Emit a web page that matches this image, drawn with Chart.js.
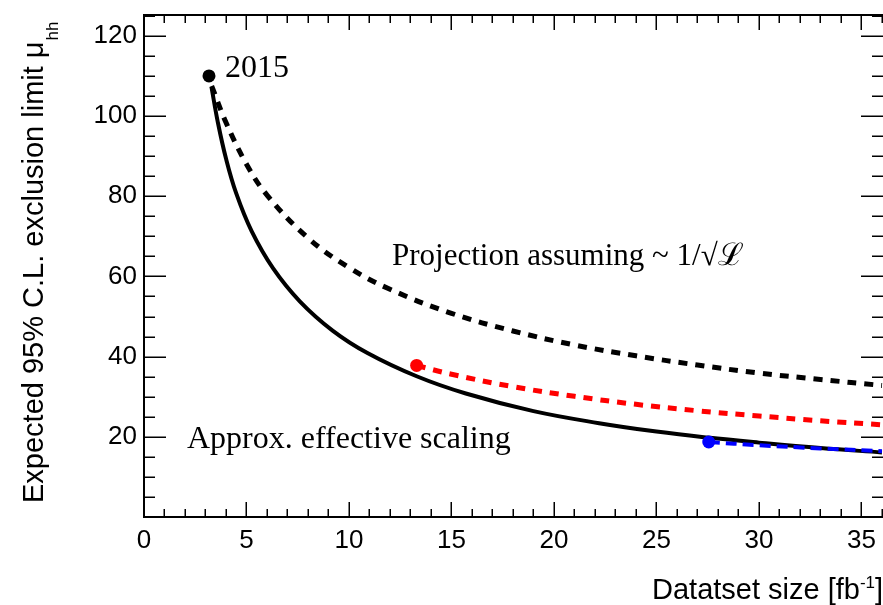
<!DOCTYPE html>
<html><head><meta charset="utf-8">
<script src="https://cdn.jsdelivr.net/npm/chart.js@4.4.1/dist/chart.umd.min.js"></script>
<style>html,body{margin:0;padding:0;background:#fff;overflow:hidden}</style>
</head><body>
<canvas id="c" width="883" height="605"></canvas>
<script>
// ---- data ----
const solidX = [3.3, 3.6, 4.0, 4.5, 5.25, 6.3, 7.6, 9.2, 10.9, 13.3, 15.7, 19, 22.2, 25, 27.5, 30, 33, 36];
const solidY = [107, 98.5, 89.4, 80.7, 71.3, 62.0, 53.8, 46.5, 40.9, 35.1, 30.8, 26.4, 23.4, 21.3, 19.8, 18.55, 17.2, 16.1];
const projX  = [3.3, 4, 5, 6, 8, 10, 12, 15, 18, 21, 24, 27, 30, 33, 36];
const projY  = [107.5, 98.4, 88, 80.3, 69.6, 62.2, 56.8, 50.8, 46.4, 42.9, 40.2, 37.9, 35.9, 34.3, 32.8];
const redX   = [13.3, 15, 18, 21, 24, 27, 30, 33, 36];
const redY   = [37.8, 35.6, 32.5, 30.1, 28.1, 26.5, 25.2, 24.0, 23.0];
const blueX  = [27.55, 30, 33, 36];
const blueY  = [18.7, 17.9, 17.1, 16.4];
const markerX = [3.17, 13.3, 27.55];
const markerY = [110, 37.8, 18.7];
const markerColors = ['#000000', '#ff0000', '#0000ff'];
const xTickLabels = [0, 5, 10, 15, 20, 25, 30, 35];
const yTickLabels = [20, 40, 60, 80, 100, 120];

const pts = (xs, ys) => xs.map((x, i) => ({x: x, y: ys[i]}));

const SANS = '"Liberation Sans", Arial, Helvetica, sans-serif';
const SERIF = '"Liberation Serif", "Times New Roman", Times, serif';
const noPad = () => ({left: 0, top: 0, right: 0, bottom: 0});

const decor = {
  id: 'decor',
  afterDatasetsDraw(chart) {
    const {ctx, chartArea: a, scales: {x, y}} = chart;
    ctx.save();
    ctx.strokeStyle = '#000';
    ctx.lineWidth = 1.5;
    ctx.beginPath();
    for (let v = 0; v <= 36; v += 1) {
      const px = Math.round(x.getPixelForValue(v)) + 0.25;
      const L = v % 5 === 0 ? 15 : 8;
      ctx.moveTo(px, a.bottom); ctx.lineTo(px, a.bottom - L);
      ctx.moveTo(px, a.top); ctx.lineTo(px, a.top + L);
    }
    for (let v = 0; v <= 125; v += 5) {
      const py = Math.round(y.getPixelForValue(v)) + 0.25;
      const L = v % 20 === 0 ? 22 : 11;
      ctx.moveTo(a.left, py); ctx.lineTo(a.left + L, py);
      ctx.moveTo(a.right, py); ctx.lineTo(a.right - L, py);
    }
    ctx.stroke();
    ctx.lineWidth = 2;
    ctx.strokeRect(a.left, a.top, a.right - a.left + 2, a.bottom - a.top);

    // annotations
    ctx.fillStyle = '#000';
    ctx.textBaseline = 'alphabetic';
    ctx.textAlign = 'left';
    ctx.font = '32px ' + SERIF;
    ctx.fillText('2015', 225, 77);
    ctx.fillText('Approx. effective scaling', 187, 448);
    ctx.font = '31px ' + SERIF;
    ctx.fillText('Projection assuming ~ 1/\u221A\u2112', 392, 265);
    ctx.restore();
  },
  afterDraw(chart) {
    const {ctx} = chart;
    ctx.save();
    ctx.fillStyle = '#000';
    ctx.textBaseline = 'alphabetic';
    ctx.textAlign = 'left';
    // y title
    ctx.translate(43, 503);
    ctx.rotate(-Math.PI / 2);
    ctx.font = '29px ' + SANS;
    const main = 'Expected 95% C.L. exclusion limit \u03BC';
    ctx.fillText(main, 0, 0);
    const w = ctx.measureText(main).width;
    ctx.font = '17px ' + SANS;
    ctx.fillText('hh', w + 1, 15);
    ctx.restore();
    // x title
    ctx.save();
    ctx.fillStyle = '#000';
    ctx.textBaseline = 'alphabetic';
    ctx.textAlign = 'left';
    ctx.font = '29px ' + SANS;
    let xp = 652;
    const t1 = 'Datatset size [fb';
    ctx.fillText(t1, xp, 599);
    xp += ctx.measureText(t1).width;
    ctx.font = '17px ' + SANS;
    ctx.fillText('-1', xp, 588);
    xp += ctx.measureText('-1').width;
    ctx.font = '29px ' + SANS;
    ctx.fillText(']', xp, 599);
    ctx.restore();
  }
};

new Chart(document.getElementById('c'), {
  type: 'line',
  data: {
    datasets: [
      {type: 'scatter', data: pts(markerX, markerY), backgroundColor: markerColors, borderWidth: 0, pointRadius: 6.5, showLine: false, order: 0},
      {data: pts(blueX, blueY), borderColor: '#0000ff', borderWidth: 4, borderDash: [11, 6], pointRadius: 0, tension: 0.4, fill: false, order: 1},
      {data: pts(solidX, solidY), borderColor: '#000', borderWidth: 4, pointRadius: 0, tension: 0.4, fill: false, order: 2},
      {data: pts(projX, projY), borderColor: '#000', borderWidth: 5, borderDash: [9, 8], pointRadius: 0, tension: 0.4, fill: false, order: 3},
      {data: pts(redX, redY), borderColor: '#ff0000', borderWidth: 5, borderDash: [9, 8], pointRadius: 0, tension: 0.4, fill: false, order: 4}
    ]
  },
  options: {
    responsive: false,
    animation: false,
    devicePixelRatio: 1,
    layout: {autoPadding: false, padding: {top: 15, right: 0, left: 0, bottom: 0}},
    plugins: {legend: {display: false}, tooltip: {enabled: false}},
    scales: {
      x: {
        type: 'linear', min: 0, max: 36.05,
        grid: {display: false, drawTicks: false}, border: {display: false},
        ticks: {color: '#000', font: {family: SANS, size: 26}, padding: 8, maxRotation: 0, autoSkip: false},
        afterBuildTicks: s => { s.ticks = xTickLabels.map(v => ({value: v})); },
        afterFit: s => { s.height = 88; s.paddingLeft = 0; s.paddingRight = 0; s.getPadding = noPad; }
      },
      y: {
        type: 'linear', min: 0, max: 125.2,
        grid: {display: false, drawTicks: false}, border: {display: false},
        ticks: {color: '#000', font: {family: SANS, size: 26}, padding: 7, autoSkip: false},
        afterBuildTicks: s => { s.ticks = yTickLabels.map(v => ({value: v})); },
        afterFit: s => { s.width = 144; s.paddingTop = 0; s.paddingBottom = 0; s.getPadding = noPad; }
      }
    }
  },
  plugins: [decor]
});
</script>
</body></html>
